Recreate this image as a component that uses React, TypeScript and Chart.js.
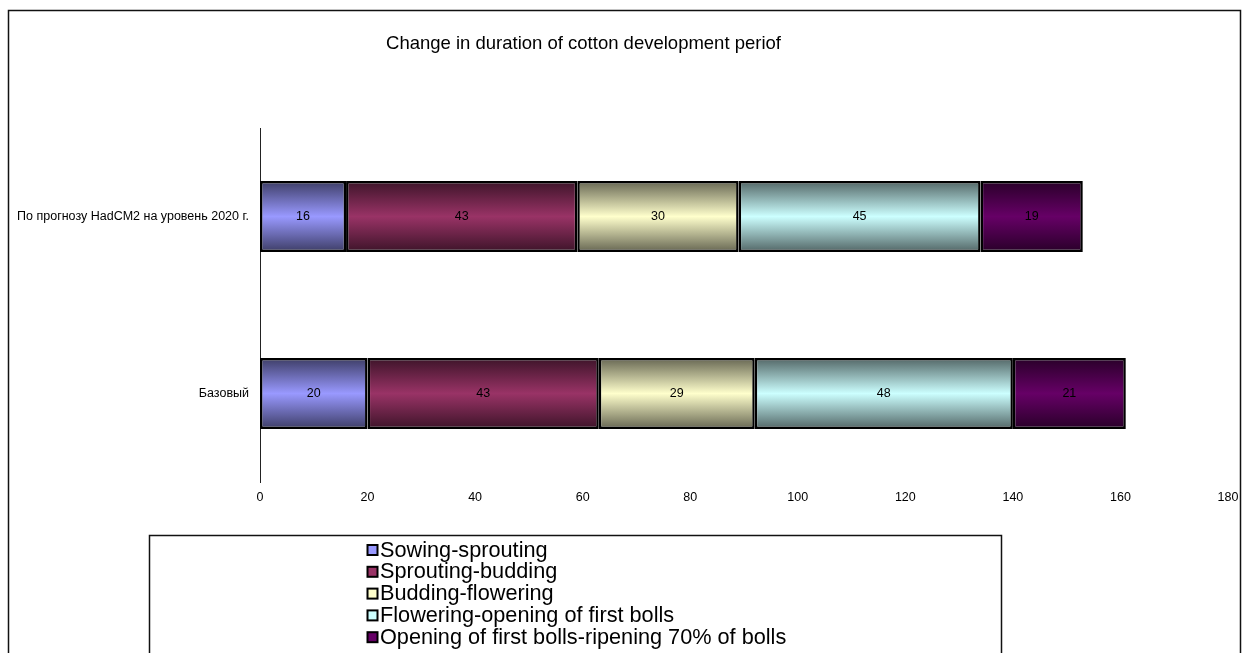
import React, { useEffect, useRef } from "react";
import { Chart, registerables } from "chart.js";

Chart.register(...registerables);

const titleText = "Change in duration of cotton development periof";
const categories = ["По прогнозу HadCM2 на уровень 2020 г.", "Базовый"];
const seriesNames = [
  "Sowing-sprouting",
  "Sprouting-budding",
  "Budding-flowering",
  "Flowering-opening of first bolls",
  "Opening of first bolls-ripening 70% of bolls",
];
const sowingSprouting = [16, 20];
const sproutingBudding = [43, 43];
const buddingFlowering = [30, 29];
const floweringOpening = [45, 48];
const openingRipening = [19, 21];
const seriesValues = [sowingSprouting, sproutingBudding, buddingFlowering, floweringOpening, openingRipening];
const seriesColors = ["#9999FF", "#993366", "#FFFFCC", "#CCFFFF", "#660066"];
const xMin = 0;
const xMax = 180;
const xStep = 20;

const FONT = "'Liberation Sans', Arial, sans-serif";
const BAR_FRACTION = 0.4;

function darken(hex: string, f: number) {
  const n = parseInt(hex.slice(1), 16);
  const r = Math.round(((n >> 16) & 255) * f);
  const g = Math.round(((n >> 8) & 255) * f);
  const b = Math.round((n & 255) * f);
  return `rgb(${r},${g},${b})`;
}

const framePlugin = {
  id: "framePlugin",
  beforeDraw(chart: any) {
    const c = chart.ctx;
    c.save();
    c.fillStyle = "#fff";
    c.fillRect(0, 0, chart.width, chart.height);
    c.strokeStyle = "#111";
    c.lineWidth = 1.5;
    c.beginPath();
    c.moveTo(8.5, chart.height + 5);
    c.lineTo(8.5, 10.5);
    c.lineTo(1240.5, 10.5);
    c.lineTo(1240.5, chart.height + 5);
    c.stroke();
    c.fillStyle = "#000";
    c.font = `18.5px ${FONT}`;
    c.textAlign = "center";
    c.textBaseline = "alphabetic";
    c.fillText(titleText, 583.5, 49);
    c.restore();
  },
  afterDraw(chart: any) {
    const c = chart.ctx;
    c.save();
    c.strokeStyle = "#111";
    c.lineWidth = 1.5;
    c.beginPath();
    c.moveTo(149.5, chart.height + 5);
    c.lineTo(149.5, 535.5);
    c.lineTo(1001.5, 535.5);
    c.lineTo(1001.5, chart.height + 5);
    c.stroke();
    c.font = `21.7px ${FONT}`;
    c.textAlign = "left";
    c.textBaseline = "alphabetic";
    seriesNames.forEach((name, i) => {
      const base = 556.5 + i * 21.8;
      c.fillStyle = seriesColors[i];
      c.fillRect(367.5, base - 11.5, 10, 10);
      c.strokeStyle = "#000";
      c.lineWidth = 2;
      c.strokeRect(367.5, base - 11.5, 10, 10);
      c.fillStyle = "#000";
      c.fillText(name, 380, base);
    });
    c.restore();
  },
  afterDatasetsDraw(chart: any) {
    const c = chart.ctx;
    c.save();
    c.fillStyle = "#000";
    c.font = `12.5px ${FONT}`;
    c.textAlign = "center";
    c.textBaseline = "middle";
    chart.data.datasets.forEach((ds: any, di: number) => {
      const meta = chart.getDatasetMeta(di);
      meta.data.forEach((el: any, i: number) => {
        const p = el.getProps(["x", "y", "base"], true);
        c.fillText(String(ds.data[i]), (p.x + p.base) / 2, p.y);
      });
    });
    c.restore();
  },
};

export default function App() {
  const ref = useRef<HTMLCanvasElement | null>(null);
  useEffect(() => {
    document.body.style.margin = "0";
    const canvas = ref.current!;
    const datasets = seriesNames.map((name, si) => ({
      label: name,
      data: seriesValues[si],
      backgroundColor: (ctx: any) => {
        const chart = ctx.chart;
        const y = chart.scales && chart.scales.y;
        if (!y || ctx.type !== "data") return seriesColors[si];
        const center = y.getPixelForValue(ctx.dataIndex);
        const half = ((y.height / categories.length) * BAR_FRACTION) / 2;
        if (!isFinite(center) || !isFinite(half) || half <= 0) return seriesColors[si];
        const g = chart.ctx.createLinearGradient(0, center - half, 0, center + half);
        g.addColorStop(0, darken(seriesColors[si], 0.4));
        g.addColorStop(0.5, seriesColors[si]);
        g.addColorStop(1, darken(seriesColors[si], 0.4));
        return g;
      },
      borderColor: "#000",
      borderWidth: 2.5,
      borderSkipped: false,
      barPercentage: 0.8,
      categoryPercentage: 0.5,
    }));
    const chart = new Chart(canvas, {
      type: "bar",
      data: { labels: categories, datasets },
      options: {
        indexAxis: "y",
        responsive: false,
        animation: false,
        layout: { padding: { top: 128, right: 14, bottom: 141, left: 0 } },
        plugins: { legend: { display: false }, title: { display: false }, tooltip: { enabled: false } },
        scales: {
          x: {
            stacked: true,
            min: xMin,
            max: xMax,
            ticks: { stepSize: xStep, color: "#000", font: { family: FONT, size: 12.5 }, padding: 8, maxRotation: 0 },
            grid: { display: false, drawTicks: false },
            border: { display: false },
            afterFit: (s: any) => {
              s.height = 30;
              s.paddingLeft = 0;
              s.paddingRight = 0;
            },
          },
          y: {
            stacked: true,
            ticks: { color: "#000", font: { family: FONT, size: 12.5 }, padding: 11 },
            grid: { display: false, drawTicks: false },
            border: { display: true, color: "#222", width: 1 },
            afterFit: (s: any) => {
              s.width = 260;
            },
          },
        },
      },
      plugins: [framePlugin],
    } as any);
    return () => chart.destroy();
  }, []);
  return (
    <div style={{ width: 1242, height: 653, overflow: "hidden" }}>
      <canvas ref={ref} width={1242} height={653} style={{ display: "block" }} />
    </div>
  );
}
